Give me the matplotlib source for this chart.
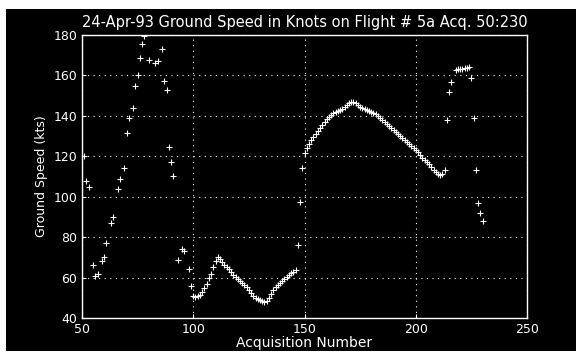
import matplotlib
matplotlib.use("Agg")
import matplotlib.pyplot as plt
from matplotlib.patches import Rectangle

acq = [50, 51, 52, 53, 55, 56, 57, 59, 60, 61, 63, 64, 66, 67, 69, 70, 71, 73, 74, 75,
       76, 77, 78, 80, 83, 84, 86, 87, 88, 89, 90, 91, 93, 95, 96, 98, 99,
       100, 101, 102, 103, 104, 105, 106, 107, 108, 109, 110, 111, 112, 113, 114, 115,
       116, 117, 118, 119, 120, 121, 122, 123, 124, 125, 126, 127, 128, 129, 130, 131,
       132, 133, 134, 135, 136, 137, 138, 139, 140, 141, 142, 143, 144, 145, 146, 147,
       148, 149, 150, 151, 152, 153, 154, 155, 156, 157, 158, 159, 160, 161, 162, 163,
       164, 165, 166, 167, 168, 169, 170, 171, 172, 173, 174, 175, 176, 177, 178, 179,
       180, 181, 182, 183, 184, 185, 186, 187, 188, 189, 190, 191, 192, 193, 194, 195,
       196, 197, 198, 199, 200, 201, 202, 203, 204, 205, 206, 207, 208, 209, 210, 211,
       212, 213, 214, 215, 216, 218, 219, 220, 221, 222, 223, 224, 225, 226, 227, 228,
       229, 230]
speed = [80, 120, 108, 105, 66, 61, 62, 68, 70, 77, 87, 90, 104, 109, 114, 131.5, 139, 144, 155, 160,
         168.6, 175.6, 179.5, 167.6, 166, 167, 173, 157, 153, 124.7, 117, 110, 68.7, 74, 73, 64, 56,
         51, 50.5, 51, 51.5, 53, 55, 57, 60, 62, 65, 68, 70, 69, 67.5, 66, 65,
         64, 63, 61.5, 60.5, 59.5, 58.5, 57.5, 56.5, 55.5, 54, 52.5, 51, 50, 49.5, 49, 48.5,
         48, 48.5, 50, 52, 54, 55.5, 56.5, 57.5, 58.5, 59.5, 60.5, 61.5, 62.5, 63, 63.5, 76,
         97.5, 114, 121.6, 124, 126, 128, 129.5, 131, 132.5, 134, 135.5, 137, 138.5, 139.5, 140.5, 141.5,
         142, 142.5, 143, 143.5, 144.5, 145.5, 146.5, 147, 147, 146.5, 145.5, 144.5, 144, 143.5, 143, 142.5,
         142, 141.5, 141, 140, 139, 138, 137, 136, 135, 134, 133, 132, 131, 130, 129, 128,
         127, 126, 125, 124, 123, 122, 120.5, 119, 118, 117, 116, 114.5, 113, 112, 111, 110.5,
         111, 113, 138, 152, 156.6, 162.5, 163, 163.2, 163.4, 163.6, 163.8, 164, 158.6, 139, 113, 97,
         92, 88]

xticks = [50, 100, 150, 200, 250]
yticks = [40, 60, 80, 100, 120, 140, 160, 180]
title = "24-Apr-93 Ground Speed in Knots on Flight # 5a Acq. 50:230"

fig = plt.figure(figsize=(5.8, 3.55), dpi=100, facecolor="white")
fig.patches.append(Rectangle((6/580, 4/355), 570/580, 342/355, transform=fig.transFigure,
                             facecolor="black", edgecolor="none", zorder=-10))
ax = fig.add_axes([82/580, 1-318/355, 445/580, 283/355])
ax.set_facecolor("black")
ax.plot(acq, speed, linestyle="none", marker="+", color="white", markersize=4, markeredgewidth=0.8)
ax.set_xlim(50, 250)
ax.set_ylim(40, 180)
ax.set_xticks(xticks)
ax.set_yticks(yticks)
ax.grid(True, color="white", linestyle=(0, (1, 4)), linewidth=0.8)
for s in ax.spines.values():
    s.set_color("white")
    s.set_linewidth(1.0)
ax.tick_params(colors="white", labelsize=9, direction="in", length=3)
ax.set_title(title, color="white", fontsize=10.5, pad=6)
ax.set_xlabel("Acquisition Number", color="white", fontsize=10, labelpad=0)
ax.set_ylabel("Ground Speed (kts)", color="white", fontsize=9, labelpad=4)
fig.savefig("out.png", dpi=100, facecolor=fig.get_facecolor())
